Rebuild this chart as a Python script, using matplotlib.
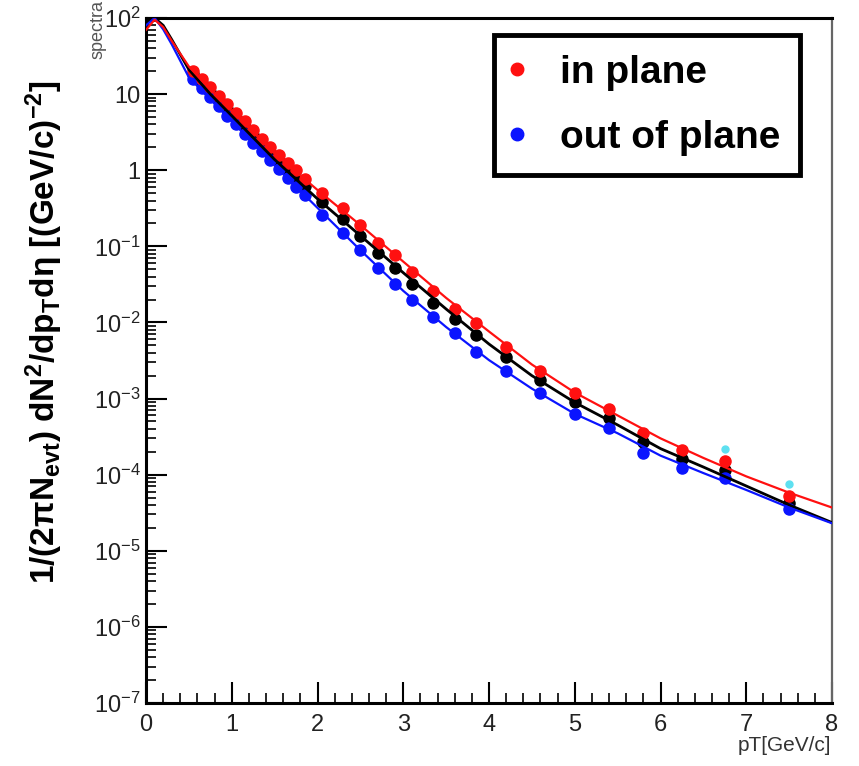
import matplotlib
matplotlib.use("Agg")
import matplotlib.pyplot as plt
from matplotlib.ticker import FixedLocator, NullFormatter, LogLocator
from matplotlib.lines import Line2D

plt.rcParams['font.family'] = ['Liberation Sans', 'DejaVu Sans']
plt.rcParams['mathtext.fontset'] = 'custom'
plt.rcParams['mathtext.rm'] = 'Liberation Sans'
plt.rcParams['mathtext.it'] = 'Liberation Sans:italic'
plt.rcParams['mathtext.bf'] = 'Liberation Sans:bold'

# measured points (pT in GeV/c)
pt = [0.55, 0.65, 0.75, 0.85, 0.95, 1.05, 1.15, 1.25, 1.35, 1.45, 1.55, 1.65,
      1.75, 1.85, 2.05, 2.3, 2.5, 2.7, 2.9, 3.1, 3.35, 3.6, 3.85, 4.2, 4.6,
      5.0, 5.4, 5.8, 6.25, 6.75, 7.5]
in_plane = [20, 15.8, 12.3, 9.5, 7.4, 5.6, 4.4, 3.4, 2.6, 2.0, 1.6, 1.25,
            1.0, 0.76, 0.50, 0.32, 0.19, 0.11, 0.076, 0.046, 0.026, 0.015,
            0.0098, 0.0048, 0.0023, 0.00117, 7.4e-4, 3.5e-4, 2.1e-4, 1.5e-4, 5.3e-5]
out_plane = [15.8, 12.0, 9.1, 6.9, 5.2, 4.0, 3.0, 2.3, 1.8, 1.35, 1.05, 0.79,
             0.60, 0.47, 0.26, 0.148, 0.089, 0.052, 0.032, 0.0195, 0.0117,
             0.0072, 0.0041, 0.0023, 0.0012, 6.3e-4, 4.1e-4, 1.95e-4, 1.23e-4,
             9.1e-5, 3.5e-5]
inclusive = [18.2, 14.1, 10.7, 8.3, 6.3, 4.8, 3.7, 2.9, 2.2, 1.7, 1.32, 1.02,
             0.79, 0.62, 0.38, 0.23, 0.138, 0.081, 0.052, 0.032, 0.018, 0.011,
             0.0068, 0.0035, 0.00174, 8.9e-4, 5.6e-4, 2.7e-4, 1.6e-4, 1.17e-4, 4.3e-5]
extra_pt = [6.75, 7.5]
extra_val = [2.2e-4, 7.6e-5]

# fitted curves
fit_pt = [0, 0.1, 0.2, 0.3, 0.5, 0.75, 1.0, 1.5, 2.0, 2.5, 3.0, 3.5, 4.0,
          4.5, 5.0, 5.5, 6.0, 6.5, 7.0, 7.5, 8.0]
fit_in = [70, 95, 76, 50, 23, 11.5, 6.0, 1.66, 0.55, 0.19, 0.063, 0.021,
          0.0076, 0.0028, 0.0012, 6.0e-4, 3.0e-4, 1.66e-4, 9.5e-5, 5.8e-5, 3.7e-5]
fit_all = [90, 100, 80, 52, 21, 10.0, 5.2, 1.38, 0.42, 0.138, 0.045, 0.015,
           0.0052, 0.002, 8.9e-4, 4.5e-4, 2.2e-4, 1.26e-4, 7.1e-5, 4.0e-5, 2.35e-5]
fit_out = [80, 100, 71, 45, 16.6, 8.5, 4.4, 1.15, 0.32, 0.089, 0.026, 0.0087,
           0.0032, 0.00135, 6.3e-4, 3.5e-4, 1.78e-4, 1.05e-4, 6.3e-5, 3.7e-5, 2.3e-5]

ytick_vals = [1e-7, 1e-6, 1e-5, 1e-4, 1e-3, 1e-2, 1e-1, 1, 10, 100]
ytick_labels = [r'10$^{-7}$', r'10$^{-6}$', r'10$^{-5}$', r'10$^{-4}$', r'10$^{-3}$',
                r'10$^{-2}$', r'10$^{-1}$', '1', '10', r'10$^{2}$']

fig = plt.figure(figsize=(8.59, 7.66), dpi=100)
ax = fig.add_axes([0.170, 0.0822, 0.7986, 0.8943])

ax.plot(pt, inclusive, 'o', color='black', ms=8, zorder=2)
ax.plot(pt, out_plane, 'o', color='#0a14ff', ms=8, zorder=3)
ax.plot(pt, in_plane, 'o', color='#ff1010', ms=8, zorder=4)
ax.plot(extra_pt, extra_val, 'o', color='#5ee0f0', ms=5, zorder=1)

ax.plot(fit_pt, fit_all, '-', color='black', lw=2, zorder=5)
ax.plot(fit_pt, fit_out, '-', color='#0a14ff', lw=1.6, zorder=5)
ax.plot(fit_pt, fit_in, '-', color='#ff1010', lw=1.6, zorder=6)

ax.set_yscale('log')
ax.set_xlim(0, 8)
ax.set_ylim(1e-7, 1e2)

ax.set_yticks(ytick_vals)
ax.set_yticklabels(ytick_labels)
ax.yaxis.set_minor_locator(LogLocator(base=10, subs=range(2, 10), numticks=20))
ax.yaxis.set_minor_formatter(NullFormatter())
ax.set_xticks(range(0, 9))
ax.xaxis.set_minor_locator(FixedLocator([i * 0.2 for i in range(41)]))

ax.tick_params(axis='both', which='major', direction='in', length=15, width=1.5,
               labelsize=17, labelcolor='#222222', top=False, right=False)
ax.tick_params(axis='both', which='minor', direction='in', length=7, width=1.2,
               top=False, right=False)
ax.tick_params(axis='x', pad=8)
ax.tick_params(axis='y', pad=4)

for s in ['top', 'left', 'bottom']:
    ax.spines[s].set_linewidth(2.2)
    ax.spines[s].set_color('black')
ax.spines['right'].set_linewidth(1.6)
ax.spines['right'].set_color('#666666')

fig.text(0.052, 0.567,
         r'$\mathbf{1/(2\pi N_{evt})\ dN^{2}/dp_{T}d\eta\ [(GeV/c)^{-2}]}$',
         rotation=90, ha='center', va='center', fontsize=24)
fig.text(0.114, 0.962, 'spectra', rotation=90, ha='center', va='center',
         fontsize=13, color='#555555')
fig.text(0.968, 0.027, 'pT[GeV/c]', ha='right', va='center', fontsize=15,
         color='#333333')

handles = [Line2D([], [], marker='o', ls='', color='#ff1010', ms=9),
           Line2D([], [], marker='o', ls='', color='#0a14ff', ms=9)]
leg = ax.legend(handles, ['in plane', 'out of plane'], loc='upper right',
                bbox_to_anchor=(0.953, 0.975), frameon=True, fancybox=False,
                prop={'weight': 'bold', 'size': 28}, handletextpad=1.0,
                labelspacing=0.75, borderpad=0.5, handlelength=0.2,
                borderaxespad=0)
leg.get_frame().set_edgecolor('black')
leg.get_frame().set_linewidth(3.5)
leg.get_frame().set_alpha(1)

fig.savefig('out.png', dpi=100)
